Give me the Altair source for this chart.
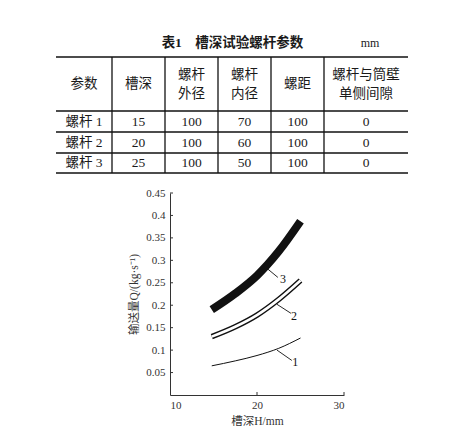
import altair as alt
import pandas as pd

# ---------------- data ----------------
table_title = "表1　槽深试验螺杆参数"
table_unit = "mm"
headers = ["参数", "槽深", "螺杆\n外径", "螺杆\n内径", "螺距", "螺杆与筒壁\n单侧间隙"]
screw_names = ["螺杆 1", "螺杆 2", "螺杆 3"]
groove_depth = ["15", "20", "25"]
outer_diameter = ["100", "100", "100"]
inner_diameter = ["70", "60", "50"]
screw_pitch = ["100", "100", "100"]
side_clearance = ["0", "0", "0"]

H_mm = [14.8, 17.5, 20.0, 22.5, 25.0]
Q_screw1 = [0.065, 0.076, 0.088, 0.104, 0.127]
Q_screw2 = [0.130, 0.152, 0.178, 0.213, 0.255]
Q_screw3 = [0.190, 0.226, 0.266, 0.320, 0.387]

curve_names = ["1", "2", "3"]
label_H = [24.4, 24.25, 23.0]
label_Q = [0.073, 0.176, 0.258]
leader_H_start = [22.3, 22.3, 21.15]
leader_Q_start = [0.100, 0.202, 0.282]
leader_H_end = [24.0, 23.9, 22.4]
leader_Q_end = [0.077, 0.182, 0.262]

x_ticks = [10, 20, 30]
y_ticks = [0.05, 0.1, 0.15, 0.2, 0.25, 0.3, 0.35, 0.4, 0.45]

# ---------------- layout ----------------
FONT = "Liberation Serif, Noto Sans CJK SC"
TABLE_W, TABLE_H = 352, 145
col_edges = [0, 56, 109, 162, 215, 268, 352]
row_edges = [27, 81, 102, 123, 143]
LINE_GAP = 19
TITLE_Y = 13
TITLE_X = 176.5
UNIT_X = 314
PLOT_W, PLOT_H = 174, 202
SPACER_W = 72

# ---------------- table ----------------
columns = [screw_names, groove_depth, outer_diameter, inner_diameter, screw_pitch, side_clearance]
cells = []
for c, head in enumerate(headers):
    cx = (col_edges[c] + col_edges[c + 1]) / 2
    hy = (row_edges[0] + row_edges[1]) / 2
    parts = head.split("\n")
    for k, part in enumerate(parts):
        cells.append({"x": cx, "y": hy + (k - (len(parts) - 1) / 2) * LINE_GAP, "t": part})
    for r, val in enumerate(columns[c]):
        cells.append({"x": cx, "y": (row_edges[r + 1] + row_edges[r + 2]) / 2, "t": val})
cell_df = pd.DataFrame(cells)

tx = alt.X("x:Q", scale=alt.Scale(domain=[0, TABLE_W], nice=False, zero=False), axis=None)
ty = alt.Y("y:Q", scale=alt.Scale(domain=[0, TABLE_H], nice=False, zero=False, reverse=True), axis=None)

hrule_df = pd.DataFrame({"y": row_edges, "x": [col_edges[0]] * len(row_edges), "x2": [col_edges[-1]] * len(row_edges)})
vrule_df = pd.DataFrame({"x": col_edges[1:-1], "y": [row_edges[0]] * (len(col_edges) - 2),
                         "y2": [row_edges[-1]] * (len(col_edges) - 2)})

hrules = alt.Chart(hrule_df).mark_rule(color="#111", strokeWidth=1.3).encode(x=tx, x2="x2:Q", y=ty)
vrules = alt.Chart(vrule_df).mark_rule(color="#111", strokeWidth=1.3).encode(x=tx, y=ty, y2="y2:Q")
cell_text = alt.Chart(cell_df).mark_text(font=FONT, fontSize=13.5, color="#1a1a1a",
                                         baseline="middle", align="center").encode(
    x=tx, y=ty, text="t:N")
title_df = pd.DataFrame({"x": [TITLE_X], "y": [TITLE_Y], "t": [table_title]})
unit_df = pd.DataFrame({"x": [UNIT_X], "y": [TITLE_Y], "t": [table_unit]})
title_text = alt.Chart(title_df).mark_text(font=FONT, fontSize=13.5, fontWeight="bold", color="#1a1a1a",
                                           baseline="middle", align="center").encode(x=tx, y=ty, text="t:N")
unit_text = alt.Chart(unit_df).mark_text(font=FONT, fontSize=12, color="#1a1a1a",
                                         baseline="middle", align="center").encode(x=tx, y=ty, text="t:N")

table = alt.layer(hrules, vrules, cell_text, title_text, unit_text).properties(width=TABLE_W, height=TABLE_H)

# ---------------- plot ----------------
curve_df = pd.DataFrame({
    "H": H_mm * 3,
    "Q": Q_screw1 + Q_screw2 + Q_screw3,
    "s": ["1"] * len(H_mm) + ["2"] * len(H_mm) + ["3"] * len(H_mm),
})

xenc = alt.X("H:Q", scale=alt.Scale(domain=[10, 30], nice=False, zero=False),
             axis=alt.Axis(values=x_ticks, title="槽深H/mm", ticks=False, grid=False,
                           labelPadding=4, titlePadding=5))
yenc = alt.Y("Q:Q", scale=alt.Scale(domain=[0, 0.45], nice=False, zero=False),
             axis=alt.Axis(values=y_ticks, format=".2~f", title="输送量Q/(kg·s⁻¹)", ticks=False,
                           grid=False, labelPadding=5, titlePadding=6))

base = alt.Chart(curve_df).encode(x=xenc, y=yenc)
c1 = base.transform_filter("datum.s == '1'").mark_line(color="#111", strokeWidth=1, interpolate="monotone")
c2o = base.transform_filter("datum.s == '2'").mark_line(color="#111", strokeWidth=5.5, interpolate="monotone")
c2i = base.transform_filter("datum.s == '2'").mark_line(color="white", strokeWidth=2.6, interpolate="monotone")
c3 = base.transform_filter("datum.s == '3'").mark_line(color="#111", strokeWidth=8, interpolate="monotone")

lab_df = pd.DataFrame({"H": label_H, "Q": label_Q, "n": curve_names})
labels = alt.Chart(lab_df).mark_text(font=FONT, fontSize=12, color="#111", align="center",
                                     baseline="middle").encode(x=xenc, y=yenc, text="n:N")
lead_df = pd.DataFrame({"H": leader_H_start, "Q": leader_Q_start, "H2": leader_H_end, "Q2": leader_Q_end})
leaders = alt.Chart(lead_df).mark_rule(color="#111", strokeWidth=0.9).encode(x=xenc, y=yenc, x2="H2:Q", y2="Q2:Q")

ytick_df = pd.DataFrame({"Q": y_ticks})
yticks = alt.Chart(ytick_df).mark_rule(color="#333", strokeWidth=1).encode(
    y=yenc, x=alt.value(0), x2=alt.value(3))
xtick_df = pd.DataFrame({"H": x_ticks[1:]})
xticks = alt.Chart(xtick_df).mark_rule(color="#333", strokeWidth=1).encode(
    x=xenc, y=alt.value(PLOT_H), y2=alt.value(PLOT_H - 3))

plot = alt.layer(c1, c2o, c2i, c3, leaders, labels, yticks, xticks).properties(width=PLOT_W, height=PLOT_H)

spacer = alt.Chart(pd.DataFrame({"s": [0]})).mark_point(size=0, opacity=0).encode(
    x=alt.value(2), y=alt.value(2)).properties(width=SPACER_W, height=10)

chart = alt.vconcat(
    table,
    alt.hconcat(spacer, plot, spacing=0),
    spacing=12,
).properties(
    padding={"left": 47, "top": 22, "right": 5, "bottom": 5},
    background="white",
).configure_view(strokeWidth=0).configure_axis(
    domainColor="#333", domainWidth=1,
    labelColor="#333", labelFont=FONT, labelFontSize=11,
    titleColor="#333", titleFont=FONT, titleFontSize=11.5, titleFontWeight="normal",
)

chart.save("out.html", embed_options={"renderer": "svg", "actions": False})
